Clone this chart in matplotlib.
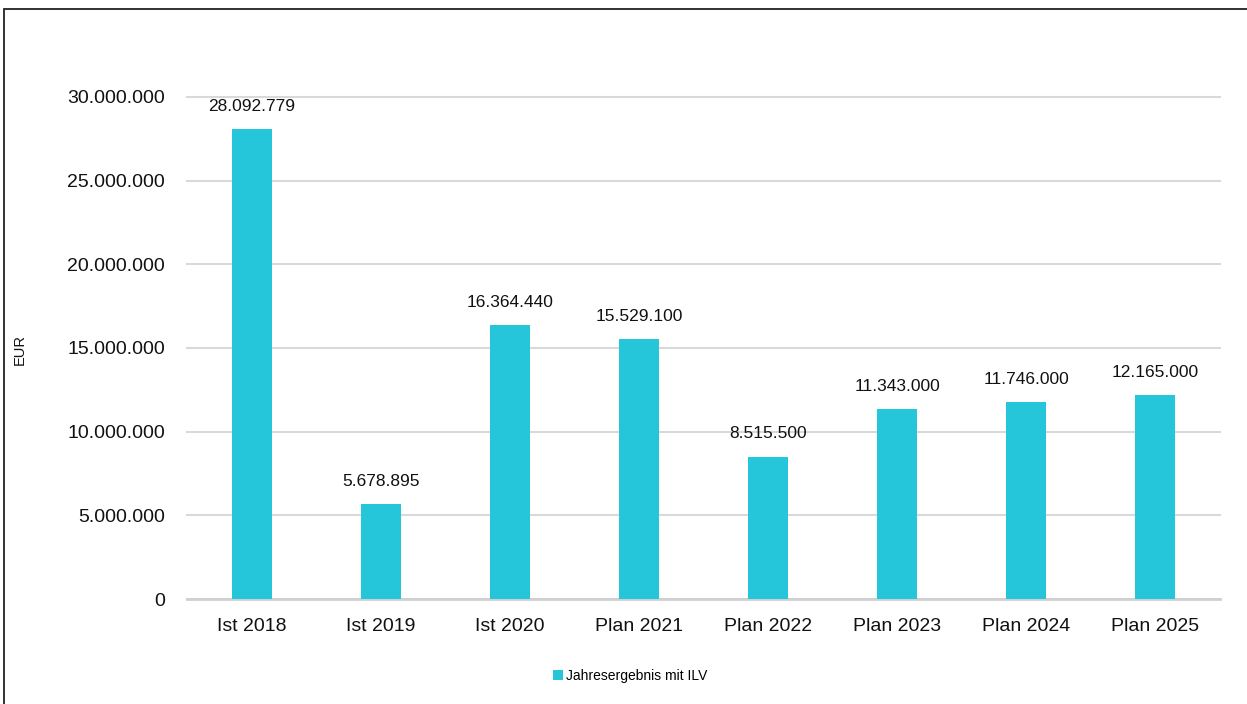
import matplotlib.pyplot as plt
from matplotlib.patches import Rectangle
from matplotlib.ticker import FuncFormatter

plt.rcParams['font.family'] = ['Liberation Sans', 'DejaVu Sans']

# Daten
kategorien = ['Ist 2018', 'Ist 2019', 'Ist 2020', 'Plan 2021', 'Plan 2022',
              'Plan 2023', 'Plan 2024', 'Plan 2025']
werte = [28092779, 5678895, 16364440, 15529100, 8515500, 11343000, 11746000, 12165000]
serie = 'Jahresergebnis mit ILV'

farbe = '#26C6DA'


def de_format(v, pos=None):
    return f'{int(round(v)):,}'.replace(',', '.')


fig = plt.figure(figsize=(12.47, 7.04), dpi=100)
ax = fig.add_axes([187 / 1247, 1 - 599 / 704, (1220 - 187) / 1247, (599 - 97) / 704])

x = range(len(kategorien))
bars = ax.bar(x, werte, width=0.31, color=farbe, label=serie, zorder=3)

ax.set_xlim(-0.5, len(kategorien) - 0.5)
ax.set_ylim(0, 30000000)
ax.set_yticks(range(0, 30000001, 5000000))
ax.yaxis.set_major_formatter(FuncFormatter(de_format))
ax.set_xticks(list(x))
ax.set_xticklabels(kategorien)
ax.tick_params(axis='both', length=0, labelsize=14, colors='#111111')
ax.tick_params(axis='x', pad=14)
ax.tick_params(axis='y', pad=16)

ax.grid(axis='y', color='#d9d9d9', linewidth=1.5, zorder=0)
for line in ax.get_ygridlines():
    line.set_clip_on(False)
for s in ['top', 'right', 'left']:
    ax.spines[s].set_visible(False)
ax.spines['bottom'].set_color('#d0d0d0')
ax.spines['bottom'].set_linewidth(2)

# Beschriftungen über den Balken
for b, v in zip(bars, werte):
    ax.annotate(de_format(v), (b.get_x() + b.get_width() / 2, v),
                xytext=(0, 11), textcoords='offset points',
                ha='center', va='bottom', fontsize=12.5, color='#111111')

fig.text(20 / 1247, 1 - 350 / 704, 'EUR', rotation=90, ha='center', va='center',
         fontsize=10.5, color='#111111')

fig.legend(loc='center', bbox_to_anchor=(630 / 1247, 1 - 676 / 704), frameon=False,
           fontsize=10, handlelength=0.7, handleheight=0.7, handletextpad=0.2)

# Rahmen
fig.patches.append(Rectangle((4 / 1247, -0.1), 1.2, 1 - 9 / 704 + 0.1,
                             transform=fig.transFigure, fill=False,
                             edgecolor='#222222', linewidth=1.3))

fig.savefig('out.png', dpi=100)
